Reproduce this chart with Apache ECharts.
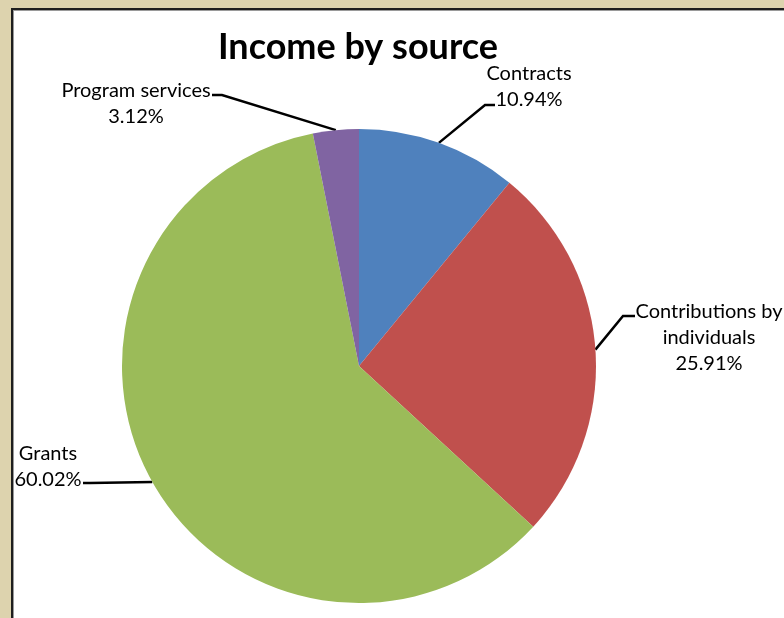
<!DOCTYPE html>
<html>
<head>
<meta charset="utf-8">
<script src="https://cdn.jsdelivr.net/npm/echarts@6/dist/echarts.min.js"></script>
<style>
  html, body { margin: 0; padding: 0; width: 784px; height: 618px; overflow: hidden; background: #ddd3ae; }
  #box { position: absolute; left: 11px; top: 8px; width: 800px; height: 700px; background: #ffffff;
         border-left: 2px solid #1e1e1e; border-top: 2px solid #1e1e1e; box-shadow: inset 1px 1px 0 #9a9a9a; }
  #chart { position: absolute; left: 0; top: 0; width: 784px; height: 618px; }
</style>
</head>
<body>
<div id="box"></div>
<div id="chart"></div>
<script>
// ---- data ----
const categories = ['Contracts', 'Contributions by individuals', 'Grants', 'Program services'];
const labelTexts = ['Contracts', 'Contributions by\nindividuals', 'Grants', 'Program services'];
const values = [10.94, 25.91, 60.02, 3.12];
const colors = ['#4F81BD', '#C0504D', '#9BBB59', '#8064A2'];

// ---- label placement (layout only) ----
const labelCenters = [[529, 87], [709, 338], [48, 467], [136, 104]];
const labelBends = [[485, 105], [623, 316], [90, 483], [222, 95]];
const labelEnds = [[495, 105], [635, 316], [83, 483], [212, 95]];

const chart = echarts.init(document.getElementById('chart'), null, { renderer: 'canvas' });
chart.setOption({
  backgroundColor: 'transparent',
  animation: false,
  title: {
    text: 'Income by source',
    left: 353,
    textAlign: 'center',
    top: 24,
    textStyle: { fontFamily: 'Lato', fontWeight: 'bold', fontSize: 36, color: '#000' }
  },
  series: [{
    type: 'pie',
    center: [359, 366],
    radius: 237,
    startAngle: 90,
    clockwise: true,
    data: categories.map((c, i) => ({ name: c, value: values[i], itemStyle: { color: colors[i] } })),
    label: {
      show: true,
      position: 'outside',
      overflow: 'none',
      fontFamily: 'Lato',
      fontSize: 20,
      lineHeight: 26,
      color: '#000',
      formatter: p => labelTexts[p.dataIndex] + '\n' + values[p.dataIndex].toFixed(2) + '%'
    },
    labelLine: { show: true, lineStyle: { color: '#000', width: 2.5 } },
    labelLayout: function (params) {
      const i = params.dataIndex;
      const start = params.labelLinePoints ? params.labelLinePoints[0] : labelBends[i];
      return {
        x: labelCenters[i][0],
        y: labelCenters[i][1],
        align: 'center',
        verticalAlign: 'middle',
        labelLinePoints: [start, labelBends[i], labelEnds[i]]
      };
    },
    itemStyle: { borderWidth: 0 },
    emphasis: { disabled: true }
  }]
});
</script>
</body>
</html>
